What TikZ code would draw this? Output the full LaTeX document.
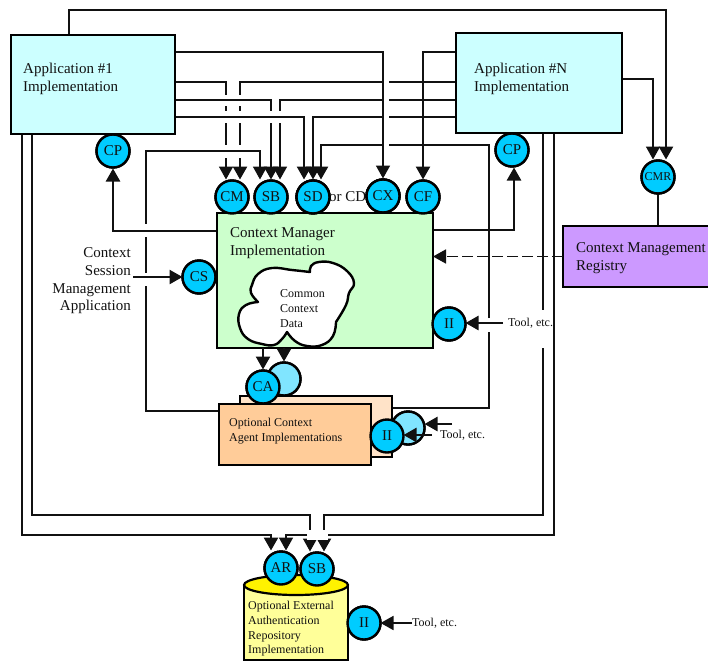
\documentclass[tikz,border=0pt]{standalone}
\usepackage{fontspec}
\setmainfont{Liberation Serif}
\usetikzlibrary{arrows.meta}
\definecolor{appc}{HTML}{CCFFFF}
\definecolor{cmc}{HTML}{CCFFCC}
\definecolor{regc}{HTML}{CC99FF}
\definecolor{optc}{HTML}{FFCC99}
\definecolor{optb}{HTML}{FFE3C8}
\definecolor{ifc}{HTML}{00CCFF}
\definecolor{ifb}{HTML}{80E5FF}
\definecolor{cyl}{HTML}{FFFF99}
\definecolor{inkc}{HTML}{111111}
\tikzset{
  box/.style={draw=black,line width=2.4pt,inner sep=0pt,outer sep=0pt},
  port/.style={circle,draw=black,line width=2.4pt,fill=ifc,minimum size=33pt,inner sep=0pt,outer sep=0pt,font=\fontsize{15}{15}\selectfont,text=inkc},
  portb/.style={port,fill=ifb},
  big/.style={font=\fontsize{15}{18.3}\selectfont,text=inkc,inner sep=0pt,anchor=west,align=left},
  small/.style={font=\fontsize{12}{15}\selectfont,text=inkc,inner sep=0pt,anchor=west,align=left},
  link/.style={draw=inkc,line width=2.5pt,line join=miter},
  thinlink/.style={draw=inkc,line width=1.7pt,line join=miter},
  tip/.style={-{Triangle[length=13pt,width=14pt]},shorten >=1pt},
  gapband/.style={fill=white,draw=none},
}
\begin{document}
\begin{tikzpicture}[x=1pt,y=-1pt]
\useasboundingbox (0,0) rectangle (708,661);
\clip (0,0) rectangle (708,661);
\fill[white] (0,0) rectangle (708,661);

\coordinate (bendA) at (489,145);
\coordinate (bendB) at (146,151);
\coordinate (bendC) at (113,231);
\coordinate (bendD) at (514,230);

\path
 node[box,minimum width=164pt,minimum height=99pt] (app1) at (93,84.5) {}
 node[box,minimum width=166pt,minimum height=100pt] (appn) at (539,83) {}
 node[box,minimum width=216pt,minimum height=135pt] (cmgr) at (325,280.5) {}
 node[box,minimum width=160pt,minimum height=61pt] (reg) at (643,256.5) {}
 node[box,minimum width=152pt,minimum height=61pt] (optback) at (316,426.5) {}
 node[box,minimum width=152pt,minimum height=61pt] (opt) at (295,434.5) {}
 node[port] (cp1) at (113,151) {}
 node[port] (cp2) at (512,150) {}
 node[port] (cm) at (232,197) {}
 node[port] (sb) at (271,197) {}
 node[port] (sd) at (313,197) {}
 node[port] (cx) at (383,196) {}
 node[port] (cf) at (423,197) {}
 node[port] (cmr) at (658,177) {}
 node[port] (cs) at (199,277) {}
 node[port] (ii1) at (449,324) {}
 node[port] (ca) at (263,387) {}
 node[port] (cab) at (284,379) {}
 node[port] (ii2) at (387,436) {}
 node[port] (ii2b) at (408,428) {}
 node[port] (ar) at (281,568) {}
 node[port] (sb2) at (317,569) {}
 node[port] (ii3) at (364,623) {};

% ---- long connectors, layered so that crossings leave gaps
\draw[link,tip] (app1.north -| 69,0) -- (69,10) -| ([xshift=8pt]cmr.north);
\draw[thinlink,tip] (appn.east |- 0,79) -| ([xshift=-5pt]cmr.north);
\draw[link] (cmr.south) -- (cmr.south |- reg.north);

\draw[thinlink,tip] (app1.east |- 0,82) -| ([xshift=-6pt]cm.north);
\draw[link,tip] (appn.west |- 0,82) -| ([xshift=8pt]cm.north);
\foreach \x in {226,240} \fill[gapband] (\x-4,95) rectangle (\x+4,106);

\draw[link,tip] (app1.east |- 0,100) -| (sb.north);
\draw[thinlink,tip] (appn.west |- 0,100) -| ([xshift=9pt]sb.north);
\foreach \x in {226,240,271,280} \fill[gapband] (\x-4,111) rectangle (\x+4,123);

\draw[link,tip] (app1.east |- 0,117) -| ([xshift=-9pt]sd.north);
\draw[link,tip] (appn.west |- 0,117) -| (sd.north);
\draw[link,tip] (optback.east |- 0,408) -- (bendA |- 0,408) -- (bendA) -| ([xshift=8pt]sd.north);

\foreach \x in {226,240} \fill[gapband] (\x-4,145) rectangle (\x+4,158);
\draw[thinlink,tip] (opt.west |- 0,411) -- (bendB |- 0,411) -- (bendB) -| ([xshift=-11pt]sb.north);
\foreach \y in {224,273} \fill[gapband] (142,\y) rectangle (150,\y+12.5);

\fill[gapband] (381.7,76) rectangle (389.3,150);
\draw[thinlink,tip] (app1.east |- 0,52) -| (cx.north);
\draw[link,tip] (appn.west |- 0,52) -| (cf.north);

\draw[link,tip] (cmgr.west |- bendC) -- (bendC) -- (cp1.south);
\draw[link,tip] (cmgr.east |- bendD) -- (bendD) -- (cp2.south -| bendD);

% ---- connectors to the repository
\draw[thinlink,tip] (app1.south -| 32,0) -- (32,515) -| ([xshift=-7pt]sb2.north);
\draw[link,tip] (appn.south -| 543,0) -- (543,515) -| ([xshift=7pt]sb2.north);
\fill[gapband] (328,530) rectangle (307,540);
\draw[link,tip] (app1.south -| 22,0) -- (22,535) -| ([xshift=-10pt]ar.north);
\draw[thinlink] (appn.south -| 554,0) -- (554,535) -- (328,535);
\draw[thinlink,tip] (307,535) -| ([xshift=5pt]ar.north);
% gaps left for the tool labels
\fill[gapband] (485,318) rectangle (493,332);
\fill[gapband] (539,310) rectangle (547,348);

% ---- redraw boxes and ports above the connectors
\node[box,fill=appc,minimum width=164pt,minimum height=99pt] at (app1) {};
\node[box,fill=appc,minimum width=166pt,minimum height=100pt] at (appn) {};
\node[box,fill=cmc,minimum width=216pt,minimum height=135pt] at (cmgr) {};
\node[box,fill=regc,minimum width=160pt,minimum height=61pt] at (reg) {};
\node[box,fill=optb,minimum width=152pt,minimum height=61pt,line width=1.8pt] at (optback) {};
\node[box,fill=optc,minimum width=152pt,minimum height=61pt] at (opt) {};

% repository
\path[fill=cyl,draw=black,line width=2.2pt] (244,585) -- (244,660) -- (348,660) -- (348,585) -- cycle;
\draw[fill=yellow,draw=black,line width=2.2pt] (296,585) ellipse [x radius=52,y radius=10];

% cloud
\draw[fill=white,draw=black,line width=2.4pt,line join=round]
  plot[smooth,tension=.75] coordinates {(287,332) (295,341) (307,346) (322,345) (333,336) (336,322)}
  -- plot[smooth,tension=.75] coordinates {(336,322) (346,305) (349,293) (354,283) (347,271) (333,263) (319,262) (311,266) (310,272)}
  -- plot[smooth,tension=.75] coordinates {(310,272) (292,270) (272,268) (258,274) (252,285) (251,293) (258,302)}
  -- plot[smooth,tension=.75] coordinates {(258,302) (246,305) (239,314) (240,328) (248,339) (262,344) (274,345) (282,339) (287,332)}
  -- cycle;

% ports
\foreach \n/\t in {cp1/CP,cp2/CP,cm/CM,sb/SB,sd/SD,cx/CX,cf/CF,cs/CS,ii1/II,ar/AR,sb2/SB,ii3/II}
  \node[port] at (\n) {\t};
\node[small,anchor=west,font=\fontsize{15}{15}\selectfont] (orcd) at (329,197) {or CD};
\foreach \n/\t in {sd/SD,cx/CX} \node[port] at (\n) {\t};
\node[port,font=\fontsize{12}{12}\selectfont] at (cmr) {CMR};
\node[portb] at (cab) {};
\node[port] at (ca) {CA};
\node[portb] at (ii2b) {};
\node[port] at (ii2) {II};

\draw[link,tip] (ca.north |- cmgr.south) -- (ca.north);
\draw[link,tip] (cab.north |- cmgr.south) -- (cab.north);

% texts
\node[big] (t1) at (23,79) {Application \#1\\Implementation};
\node[big] (t2) at (474,79) {Application \#N\\Implementation};
\node[big] (t3) at (230,243) {Context Manager\\Implementation};
\node[big] (t4) at (576,258) {Context Management\\Registry};
\node[big,anchor=east,align=right,font=\fontsize{15}{17.7}\selectfont] (t5) at (131,281) {Context\\Session\\Management\\Application};
\node[small] (t6) at (280,308.5) {Common\\Context\\Data};
\node[small] (t7) at (229,431) {Optional Context\\Agent Implementations};
\node[small,font=\fontsize{12}{14.7}\selectfont] (t8) at (248,629) {Optional External\\Authentication\\Repository\\Implementation};
\node[small] (tool1) at (508,323) {Tool, etc.};
\node[small] (tool2) at (440,435) {Tool, etc.};
\node[small] (tool3) at (412,623) {Tool, etc.};
\coordinate (free2a) at (452,424);
\coordinate (free2b) at (432,435);

\draw[link,tip,shorten >=0pt] (cs.west -| 133,0) -- (cs.west);
\draw[thinlink,tip,shorten >=0pt,dash pattern=on 11pt off 4pt] (reg.west) -- (cmgr.east |- reg.west);
\draw[link,tip,shorten >=0pt] ([xshift=-5pt]tool1.west) -- (ii1.east |- tool1.west);
\draw[link,tip,shorten >=0pt] (free2a) -- (free2a -| ii2b.east);
\draw[link,tip,shorten >=0pt] (free2b) -- (ii2.east |- free2b);
\draw[thinlink,tip,shorten >=0pt] (tool3.west) -- (ii3.east |- tool3.west);
\end{tikzpicture}
\end{document}
